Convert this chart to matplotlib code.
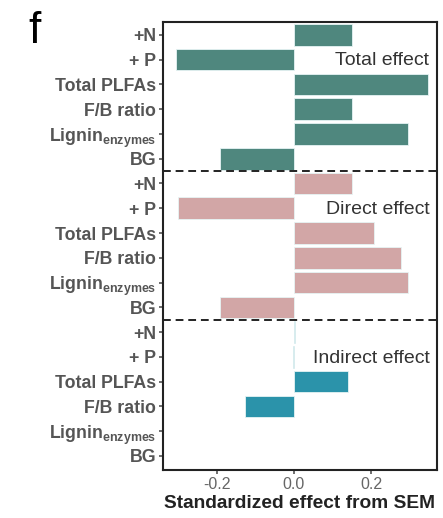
import numpy as np
import matplotlib
matplotlib.use("Agg")
import matplotlib.pyplot as plt

plt.rcParams["font.family"] = ["Liberation Sans", "DejaVu Sans"]

# data
variables = ["+N", "+ P", "Total PLFAs", "F/B ratio",
             r"Lignin$_{\mathregular{enzymes}}$", "BG"]
groups = ["Total effect", "Direct effect", "Indirect effect"]
total_effect = [0.15, -0.306, 0.348, 0.15, 0.296, -0.192]
direct_effect = [0.15, -0.30, 0.208, 0.278, 0.296, -0.192]
indirect_effect = [0.003, -0.003, 0.14, -0.127, 0.0, 0.0]
group_colors = ["#4f877e", "#d2a6a6", "#2b93aa"]
xticks = [-0.2, 0.0, 0.2]

values = [total_effect, direct_effect, indirect_effect]
n = len(variables)

fig = plt.figure(figsize=(4.43, 5.18), dpi=100)
ax = fig.add_axes([0.368, 0.093, 0.618, 0.865])

tick_pos = []
tick_lab = []
for g, (vals, col, name) in enumerate(zip(values, group_colors, groups)):
    pos = np.arange(n) + g * n
    edges = ["#e6f4f4" if v != 0 else "none" for v in vals]
    ax.barh(pos, vals, height=0.87, color=col, edgecolor=edges,
            linewidth=0.6)
    ax.text(0.352, pos[1] + 0.05, name, ha="right", va="center",
            fontsize=14, color="#333333")
    tick_pos += list(pos)
    tick_lab += variables
    if g > 0:
        ax.axhline(g * n - 0.5, color="#222222", ls=(0, (4, 2.5)), lw=1.4)

ax.set_yticks(tick_pos)
ax.set_yticklabels(tick_lab, fontweight="bold", fontsize=12.8, color="#555555")
ax.set_ylim(3 * n - 0.44, -0.53)
ax.set_xlim(-0.34, 0.371)
ax.set_xticks(xticks)
ax.set_xticklabels([f"{t:.1f}" for t in xticks], fontsize=11.5, color="#666666")
ax.tick_params(axis="both", length=3, width=1.2, color="#555555", pad=2)
ax.set_xlabel("Standardized effect from SEM", fontweight="bold", fontsize=13.8,
              color="#222222", labelpad=2)
for sp in ax.spines.values():
    sp.set_linewidth(1.5)
    sp.set_color("#222222")

fig.text(0.079, 0.94, "f", fontsize=32, ha="center", va="center")

fig.savefig("out.png", dpi=100)
